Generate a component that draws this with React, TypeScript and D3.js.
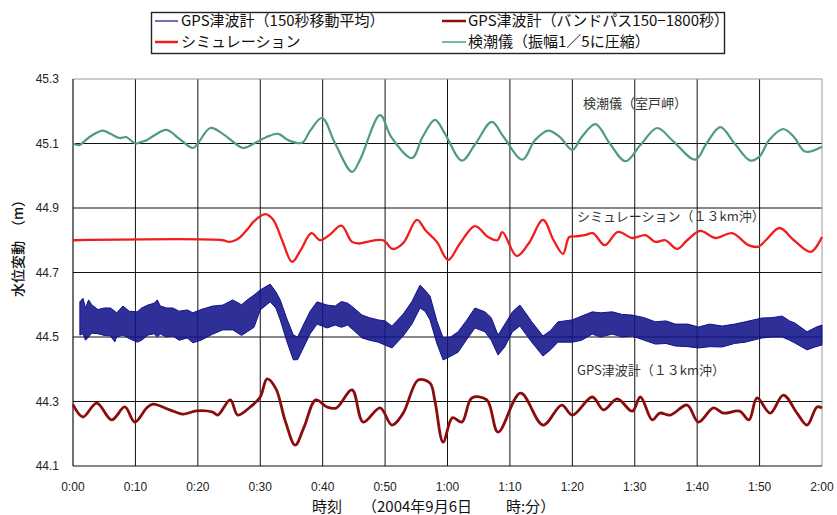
import React from 'react';
import * as d3 from 'd3';

// ---- axis ticks ----
const xTicks = [0, 10, 20, 30, 40, 50, 60, 70, 80, 90, 100, 110, 120];
const xTickLabels = ['0:00', '0:10', '0:20', '0:30', '0:40', '0:50', '1:00', '1:10', '1:20', '1:30', '1:40', '1:50', '2:00'];
const yTicks = [44.1, 44.3, 44.5, 44.7, 44.9, 45.1, 45.3];
const yTickLabels = ['44.1', '44.3', '44.5', '44.7', '44.9', '45.1', '45.3'];

// ---- series: [minute, metres] ----
const tideGauge: [number, number][] = [
  [0, 45.1], [1, 45.095], [2, 45.11], [3, 45.125], [4.8, 45.14], [6, 45.13], [7.5, 45.117], [8.5, 45.12],
  [10, 45.1], [11, 45.105], [11.8, 45.11], [13, 45.125], [15, 45.142], [17, 45.115], [19.2, 45.086], [20, 45.1],
  [22, 45.148], [24, 45.13], [26, 45.1], [27.2, 45.086], [29, 45.1], [31, 45.12], [32.9, 45.13], [34.5, 45.11],
  [36.7, 45.102], [38, 45.14], [39.9, 45.179], [42, 45.1], [44.7, 45.012], [46, 45.05], [49.2, 45.188], [51, 45.12],
  [54.3, 45.055], [56, 45.12], [58, 45.173], [59.6, 45.13], [62.3, 45.047], [64.5, 45.1], [67.1, 45.167], [69, 45.12],
  [72, 45.05], [74, 45.11], [76.1, 45.14], [78, 45.12], [80, 45.08], [81.5, 45.12], [83.7, 45.16], [86, 45.1],
  [88.5, 45.045], [90.9, 45.095], [93.6, 45.148], [96, 45.11], [99.7, 45.05], [101.5, 45.1], [103.7, 45.151], [106, 45.1],
  [108.5, 45.047], [110, 45.06], [111.5, 45.11], [113.8, 45.145], [115.5, 45.12], [117.3, 45.075], [120, 45.09],
];

const simulation: [number, number][] = [
  [0, 44.8], [24, 44.8], [25, 44.795], [26, 44.8], [26.8, 44.81], [28, 44.835], [28.9, 44.857], [30.8, 44.881],
  [32.1, 44.863], [33.5, 44.8], [35.1, 44.733], [36.5, 44.77], [38.2, 44.822], [39.6, 44.8], [41, 44.815], [43, 44.845],
  [44.7, 44.795], [46, 44.79], [47.1, 44.795], [49.7, 44.8], [51.2, 44.773], [52.9, 44.791], [55.1, 44.863], [56.5, 44.83],
  [58.3, 44.795], [60.1, 44.739], [62, 44.79], [64.4, 44.844], [66.5, 44.81], [68, 44.8], [68.8, 44.825], [71.1, 44.751],
  [73, 44.79], [75.3, 44.863], [77, 44.8], [78.5, 44.758], [79.5, 44.81], [80.5, 44.812], [82, 44.816], [83.3, 44.822],
  [85.2, 44.785], [87.3, 44.826], [89.6, 44.807], [91.7, 44.816], [93.3, 44.795], [94.9, 44.8], [96.8, 44.773], [98.4, 44.8],
  [100.5, 44.829], [102.9, 44.807], [105.6, 44.822], [108.2, 44.785], [109.8, 44.78], [111, 44.8], [113.2, 44.838],
  [115.5, 44.8], [118.2, 44.764], [120, 44.81],
];

const gpsBandpass: [number, number][] = [
  [0, 44.29], [1.6, 44.252], [3.8, 44.295], [6.2, 44.243], [8.3, 44.283], [9.9, 44.236], [11.8, 44.28], [12.8, 44.292],
  [15.5, 44.274], [17.6, 44.261], [19.8, 44.271], [22.4, 44.267], [23.2, 44.258], [25.2, 44.305], [26.4, 44.258],
  [28.4, 44.283], [30, 44.314], [31.1, 44.37], [32.5, 44.34], [34, 44.24], [35.6, 44.165], [37, 44.22], [38.9, 44.305],
  [40.7, 44.283], [42.2, 44.28], [44.7, 44.336], [46.5, 44.236], [49.2, 44.28], [51.1, 44.227], [52.9, 44.264],
  [55.3, 44.367], [57.2, 44.357], [58, 44.3], [59.3, 44.174], [60.8, 44.25], [62.3, 44.236], [63.9, 44.311], [66.3, 44.305],
  [68.1, 44.205], [71.7, 44.326], [75.3, 44.227], [78.3, 44.289], [80, 44.258], [83.2, 44.314], [85, 44.274], [87.2, 44.308],
  [89.6, 44.27], [90.9, 44.314], [92.8, 44.243], [94, 44.264], [95.7, 44.258], [98.4, 44.289], [100.2, 44.236],
  [102.6, 44.28], [104.2, 44.264], [106.8, 44.27], [108.3, 44.243], [109.6, 44.311], [111.7, 44.264], [113.8, 44.32],
  [116, 44.264], [117.6, 44.227], [119.2, 44.283], [120, 44.28],
];

// GPS moving average: a noisy trace, kept as the extent of its band (upper / lower)
const gpsMATimes = [
  1.1, 1.6, 2, 2.5, 3, 4, 5, 6, 6.7, 7, 8, 9, 10.3, 11, 12, 13, 13.5, 14, 15, 16, 17, 18.3, 19.2, 20.5, 22.4, 24,
  25.6, 27, 27.9, 29, 30, 31.6, 32.5, 33.2, 34.2, 35.3, 36, 36.9, 38, 39.1, 40.7, 42, 43, 44, 45, 46.3, 47.5, 48.9,
  50, 51.1, 52.9, 54.3, 55.6, 56.4, 57.2, 58.3, 59.3, 60.5, 61.7, 63, 64.4, 66, 67, 68.1, 69.2, 70.4, 71.6, 72.5,
  73.5, 75.3, 76.5, 77.7, 80, 81.5, 83.2, 84.5, 86.4, 88, 89.6, 91.5, 93.3, 95, 96.5, 98.5, 100.2, 102, 104, 106,
  107.7, 110.4, 112, 113.6, 114.8, 115.7, 117.6, 119, 120,
];
const gpsMAUpper = [
  44.609, 44.62, 44.59, 44.615, 44.6, 44.585, 44.59, 44.59, 44.58, 44.575, 44.596, 44.58, 44.578, 44.59, 44.599,
  44.605, 44.615, 44.596, 44.59, 44.59, 44.58, 44.584, 44.575, 44.585, 44.596, 44.599, 44.615, 44.6, 44.615, 44.63,
  44.646, 44.664, 44.64, 44.615, 44.56, 44.506, 44.5, 44.537, 44.58, 44.609, 44.599, 44.596, 44.61, 44.605, 44.59,
  44.568, 44.56, 44.553, 44.55, 44.534, 44.571, 44.61, 44.661, 44.645, 44.627, 44.55, 44.497, 44.5, 44.516, 44.55,
  44.59, 44.578, 44.56, 44.506, 44.54, 44.578, 44.599, 44.575, 44.547, 44.503, 44.52, 44.547, 44.553, 44.565,
  44.578, 44.575, 44.578, 44.57, 44.568, 44.56, 44.547, 44.55, 44.54, 44.54, 44.531, 44.54, 44.534, 44.54, 44.547,
  44.559, 44.56, 44.565, 44.55, 44.543, 44.516, 44.53, 44.537,
];
const gpsMALower = [
  44.506, 44.51, 44.49, 44.5, 44.512, 44.51, 44.505, 44.503, 44.485, 44.5, 44.506, 44.495, 44.484, 44.49, 44.506,
  44.51, 44.5, 44.509, 44.5, 44.503, 44.49, 44.497, 44.482, 44.49, 44.509, 44.522, 44.522, 44.505, 44.516, 44.53,
  44.584, 44.609, 44.59, 44.553, 44.49, 44.429, 44.43, 44.466, 44.51, 44.54, 44.528, 44.537, 44.53, 44.537, 44.52,
  44.497, 44.49, 44.484, 44.475, 44.466, 44.503, 44.54, 44.59, 44.58, 44.553, 44.48, 44.429, 44.44, 44.453, 44.49,
  44.528, 44.516, 44.49, 44.444, 44.47, 44.516, 44.534, 44.51, 44.484, 44.441, 44.46, 44.484, 44.484, 44.49, 44.509,
  44.5, 44.509, 44.5, 44.503, 44.49, 44.478, 44.48, 44.472, 44.47, 44.466, 44.47, 44.469, 44.48, 44.484, 44.497,
  44.5, 44.5, 44.49, 44.481, 44.46, 44.47, 44.475,
];

const legendLabels = [
  'GPS津波計（150秒移動平均）',
  'GPS津波計（バンドパス150−1800秒）',
  'シミュレーション',
  '検潮儀（振幅1／5に圧縮）',
];
const annotations = ['検潮儀（室戸岬）', 'シミュレーション（１３km沖）', 'GPS津波計（１３km沖）'];
const xTitleParts = ['時刻', '（2004年9月6日', '時:分）'];
const yTitle = '水位変動　（m）';

const COLORS = { ma: '#12128a', bp: '#8a0c0c', sim: '#f21c1c', tide: '#4f9c7c' };

const W = 837;
const H = 515;
const M = { left: 73, right: 822, top: 79, bottom: 466 };
const JP = "'Noto Sans CJK JP', 'Noto Sans', sans-serif";
const LAT = "'Liberation Sans', Arial, sans-serif";

export default function App() {
  const x = d3.scaleLinear().domain([0, 120]).range([M.left, M.right]);
  const y = d3.scaleLinear().domain([44.1, 45.3]).range([M.bottom, M.top]);

  const smooth = d3
    .line<[number, number]>()
    .x((d) => x(d[0]))
    .y((d) => y(d[1]))
    .curve(d3.curveCatmullRom.alpha(0.5));
  const band = d3
    .area<number>()
    .x((t) => x(t))
    .y0((_, i) => y(gpsMALower[i]))
    .y1((_, i) => y(gpsMAUpper[i]));

  const annPos: [number, number, number][] = [
    [583, 108, 0],
    [577, 221, 1],
    [577, 375, 2],
  ];

  return (
    <svg
      width={W}
      height={H}
      viewBox={`0 0 ${W} ${H}`}
      style={{ position: 'absolute', left: 0, top: 0, background: '#fff' }}
    >
      <rect x={0} y={0} width={W} height={H} fill="#fff" />
      {/* legend */}
      <g>
        <rect x={151.5} y={12.5} width={573} height={41} fill="#fff" stroke="#222" strokeWidth={1.4} />
        <line x1={155} x2={178} y1={21} y2={21} stroke={COLORS.ma} strokeWidth={1.2} />
        <text x={181} y={26} fontFamily={JP} fontSize={15} fill="#111">{legendLabels[0]}</text>
        <line x1={155} x2={178} y1={42} y2={42} stroke={COLORS.sim} strokeWidth={2.5} />
        <text x={181} y={47} fontFamily={JP} fontSize={15} fill="#111">{legendLabels[2]}</text>
        <line x1={442} x2={466} y1={21} y2={21} stroke={COLORS.bp} strokeWidth={2.5} />
        <text x={468} y={26} fontFamily={JP} fontSize={15} fill="#111">{legendLabels[1]}</text>
        <line x1={442} x2={466} y1={42} y2={42} stroke={COLORS.tide} strokeWidth={1.5} />
        <text x={468} y={47} fontFamily={JP} fontSize={15} fill="#111">{legendLabels[3]}</text>
      </g>

      {/* grid */}
      <g>
        {yTicks.slice(1, -1).map((v) => (
          <line key={v} x1={M.left} x2={M.right} y1={y(v)} y2={y(v)} stroke="#111" strokeWidth={1} />
        ))}
        {xTicks.slice(1, -1).map((t) => (
          <line key={t} x1={x(t)} x2={x(t)} y1={M.top} y2={M.bottom} stroke="#111" strokeWidth={1} />
        ))}
        <line x1={M.left} x2={M.right} y1={M.top} y2={M.top} stroke="#999" strokeWidth={1} />
        <line x1={M.right} x2={M.right} y1={M.top} y2={M.bottom} stroke="#999" strokeWidth={1} />
        <line x1={M.left} x2={M.left} y1={M.top} y2={M.bottom} stroke="#111" strokeWidth={1.2} />
        <line x1={M.left} x2={M.right} y1={M.bottom} y2={M.bottom} stroke="#111" strokeWidth={1.2} />
      </g>

      {/* series */}
      <path d={smooth(tideGauge) || ''} fill="none" stroke={COLORS.tide} strokeWidth={2.2} strokeLinejoin="round" />
      <path d={smooth(simulation) || ''} fill="none" stroke={COLORS.sim} strokeWidth={2.3} strokeLinejoin="round" />
      <path d={band(gpsMATimes) || ''} fill={COLORS.ma} fillOpacity={0.88} stroke={COLORS.ma} strokeWidth={1} />
      <path d={smooth(gpsBandpass) || ''} fill="none" stroke={COLORS.bp} strokeWidth={2.8} strokeLinejoin="round" />

      {/* annotations */}
      {annPos.map(([ax, ay, i]) => (
        <text key={i} x={ax} y={ay} fontFamily={JP} fontSize={13} fill="#333">{annotations[i]}</text>
      ))}

      {/* y axis labels */}
      {yTicks.map((v, i) => (
        <text key={v} x={59} y={y(v) + 4} textAnchor="end" fontFamily={LAT} fontSize={12} fill="#222">{yTickLabels[i]}</text>
      ))}
      {/* x axis labels */}
      {xTicks.map((t, i) => (
        <text key={t} x={x(t)} y={491} textAnchor="middle" fontFamily={LAT} fontSize={12} fill="#222">{xTickLabels[i]}</text>
      ))}
      <text y={512} fontFamily={JP} fontSize={15} fill="#111">
        <tspan x={312}>{xTitleParts[0]}</tspan>
        <tspan x={362}>{xTitleParts[1]}</tspan>
        <tspan x={506}>{xTitleParts[2]}</tspan>
      </text>
      <text
        transform={`translate(23, 245) rotate(-90)`}
        textAnchor="middle"
        fontFamily={JP}
        fontSize={14}
        fontWeight={500}
        fill="#111"
      >
        {yTitle}
      </text>
    </svg>
  );
}
